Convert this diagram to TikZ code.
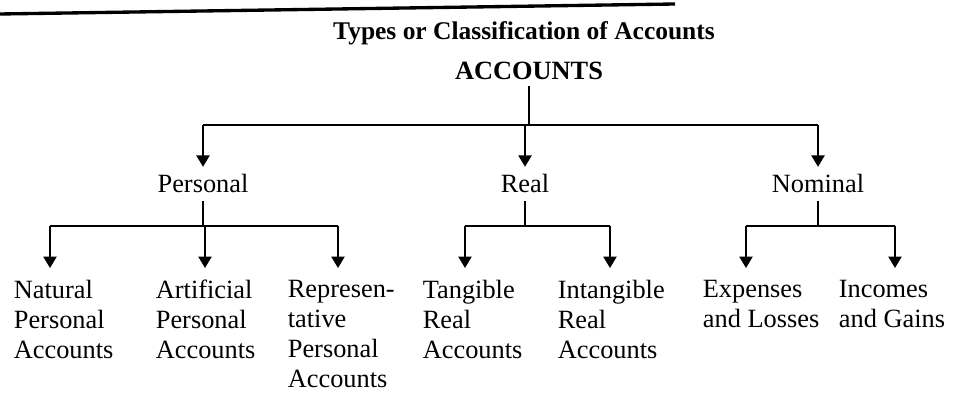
\documentclass[tikz,border=0pt]{standalone}
\usepackage{fontspec}
\setmainfont{Liberation Serif}
\usetikzlibrary{arrows.meta}

\begin{document}
\begin{tikzpicture}[x=0.02cm,y=-0.02cm,line width=1pt,
  arr/.style={-{Triangle[width=7.5pt,length=6.5pt]}},
  head/.style={inner sep=3pt,anchor=base,font=\fontsize{15}{17}\selectfont\bfseries},
  group/.style={inner sep=4pt,anchor=base,font=\fontsize{15}{17.6}\selectfont},
  leaf/.style={anchor=north west,align=left,inner xsep=0pt,inner ysep=6.3pt,
    font=\fontsize{15}{17.1}\selectfont,execute at begin node=\strut}]

\useasboundingbox (0,0) rectangle (954,394);

% Rule at the top of the page
\draw[line width=1.9pt] (0,14) -- (675,4);

% Headings
\node[head,font=\fontsize{14.5}{17}\selectfont\bfseries] (title) at (524,40)
  {Types or Classification of Accounts};
\node[head] (accounts) at (529,80) {ACCOUNTS};

% ---- Main groups ----
\node[group] (personal) at (203,193) {Personal};
\node[group] (real) at (525,193) {Real};
\node[group] (nominal) at (818,193) {Nominal};

\coordinate (bar) at (0,125);
\draw (accounts.south) -- (accounts.south |- bar);
\draw (personal |- bar) -- (nominal |- bar);
\foreach \grp in {personal,real,nominal}
  \draw[arr] (\grp |- bar) -- (\grp.north);

% ---- Sub-groups ----
\node[leaf] (natural) at (13,268) {Natural\\Personal\\Accounts};
\node[leaf] (artificial) at (155,268) {Artificial\\Personal\\Accounts};
\node[leaf] (representative) at (287,268) {Represen-\\tative\\Personal\\Accounts};
\node[leaf] (tangible) at (422,268) {Tangible\\Real\\Accounts};
\node[leaf] (intangible) at (557,268) {Intangible\\Real\\Accounts};
\node[leaf] (expenses) at (702,268) {Expenses\\and Losses};
\node[leaf] (incomes) at (838,268) {Incomes\\and Gains};

\coordinate (subbar) at (0,226);

% Personal
\draw (personal.south) -- (personal.south |- subbar);
\draw (50,226) -- (338,226);
% Real
\draw (real.south) -- (real.south |- subbar);
\draw (465,226) -- (610,226);
% Nominal
\draw (nominal.south) -- (nominal.south |- subbar);
\draw (746,226) -- (895,226);

% Arrows down to each account type
\foreach \leaf/\ax in {natural/50,artificial/205,representative/338,
    tangible/465,intangible/610,expenses/746,incomes/895} {
  \coordinate (tip) at (\ax,226);
  \draw[arr] (tip) -- (tip |- \leaf.north);
}

\end{tikzpicture}
\end{document}
